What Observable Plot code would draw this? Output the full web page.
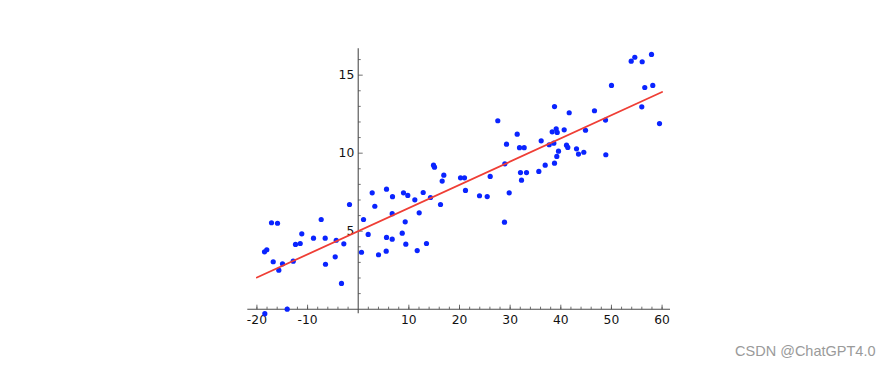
<!DOCTYPE html>
<html>
<head>
<meta charset="utf-8">
<script src="https://cdn.jsdelivr.net/npm/d3@7"></script>
<script src="https://cdn.jsdelivr.net/npm/@observablehq/plot@0.6"></script>
<style>
  html, body { margin: 0; padding: 0; background: #fff; }
</style>
</head>
<body>
<div id="chart"></div>
<script>
// Scatter data
const xs = [-18.44, -14.02, -18.5, -18.05, -17.12, -15.93, -16.78, -15.68, -14.95, -12.83,
  -12.38, -11.45, -11.14, -8.83, -7.31, -6.52, -6.46, -4.54, -4.34, -3.3,
  -2.84, -1.72, 0.65, 1.05, 1.97, 2.76, 3.28, 4.01, 5.59, 5.59,
  5.53, 6.77, 6.71, 6.71, 8.94, 8.69, 9.28, 9.4, 9.79, 11.18,
  11.65, 12.04, 12.83, 13.48, 14.27, 14.87, 15.06, 16.25, 16.58, 16.9,
  20.2, 20.99, 21.18, 23.95, 25.47, 26.06, 27.56, 28.95, 28.88, 29.28,
  29.81, 31.39, 31.85, 32.77, 32.04, 32.24, 33.23, 35.66, 36.13, 36.92,
  37.71, 38.3, 38.76, 39.09, 39.29, 38.62, 39.55, 39.21, 38.76, 40.67,
  41.66, 41.13, 41.38, 43.1, 43.49, 44.54, 44.88, 46.65, 48.83, 48.89,
  50.01, 53.9, 54.61, 56.07, 57.91, 55.99, 56.58, 58.16, 59.49];
const ys = [-0.29, 0.0, 3.68, 3.81, 5.54, 5.51, 3.04, 2.5, 2.91, 3.08,
  4.15, 4.21, 4.83, 4.55, 5.75, 4.55, 2.88, 3.36, 4.42, 1.65,
  4.19, 6.71, 3.65, 5.75, 4.79, 7.46, 6.6, 3.49, 7.69, 4.6,
  3.72, 7.21, 6.12, 4.49, 7.46, 4.87, 5.6, 4.17, 7.29, 7.01,
  3.76, 6.18, 7.48, 4.21, 7.16, 9.23, 9.1, 6.71, 8.21, 8.59,
  8.42, 8.42, 7.61, 7.27, 7.22, 8.51, 12.08, 9.32, 5.58, 10.58,
  7.46, 11.22, 10.35, 10.35, 8.76, 8.27, 8.76, 8.83, 10.79, 9.23,
  10.54, 11.37, 12.99, 11.56, 11.33, 10.64, 10.13, 9.79, 9.36, 11.5,
  12.59, 10.51, 10.37, 10.28, 9.94, 10.06, 11.47, 12.72, 12.12, 9.9,
  14.34, 15.9, 16.15, 15.86, 16.33, 12.97, 14.21, 14.34, 11.9];

// Fitted line endpoints
const fitX = [-20, 60];
const fitY = [2.03, 13.92];

// Axis extents and ticks
const xAxisExtent = [-21.8, 61.66];
const yAxisExtent = [-0.29, 16.69];
const xMajorTicks = [-20, -10, 10, 20, 30, 40, 50, 60];
const xMajorLabels = ["-20", "-10", "10", "20", "30", "40", "50", "60"];
const xMinorTicks = [-20, -18, -16, -14, -12, -10, -8, -6, -4, -2, 2, 4, 6, 8, 10, 12, 14, 16, 18, 20,
  22, 24, 26, 28, 30, 32, 34, 36, 38, 40, 42, 44, 46, 48, 50, 52, 54, 56, 58, 60];
const yMajorTicks = [5, 10, 15];
const yMajorLabels = ["5", "10", "15"];
const yMinorTicks = [1, 2, 3, 4, 6, 7, 8, 9, 11, 12, 13, 14, 16];

const watermark = "CSDN @ChatGPT4.0";

const points = xs.map((x, i) => ({x, y: ys[i]}));
const fit = fitX.map((x, i) => ({x, y: fitY[i]}));

const axisColor = "#4d4d4d";
const tickLen = (L) => ({draw(ctx) { ctx.moveTo(0, 0); ctx.lineTo(0, -L); }});
const tickRight = (L) => ({draw(ctx) { ctx.moveTo(0, 0); ctx.lineTo(L, 0); }});

const chart = Plot.plot({
  width: 890,
  height: 366,
  marginLeft: 247.3,
  marginRight: 220,
  marginTop: 48.3,
  marginBottom: 57.3,
  x: {domain: xAxisExtent, axis: null},
  y: {domain: [0, yAxisExtent[1]], axis: null},
  style: {fontFamily: "DejaVu Sans", fontSize: "12px", background: "#fff"},
  marks: [
    // axes lines
    Plot.ruleY([0], {x1: xAxisExtent[0], x2: xAxisExtent[1], stroke: axisColor, strokeWidth: 1.1}),
    Plot.ruleX([0], {y1: yAxisExtent[0], y2: yAxisExtent[1], stroke: axisColor, strokeWidth: 1.1}),
    // x ticks
    Plot.dot(xMinorTicks, {x: d => d, y: 0, symbol: tickLen(2.5), stroke: axisColor, fill: "none", strokeWidth: 0.8}),
    Plot.dot(xMajorTicks, {x: d => d, y: 0, symbol: tickLen(4.5), stroke: axisColor, fill: "none", strokeWidth: 0.8}),
    Plot.text(xMajorTicks, {x: d => d, y: 0, text: (d, i) => xMajorLabels[i], dy: 10.5, lineAnchor: "middle", fill: "#111", fontSize: 12.3}),
    // y ticks
    Plot.dot(yMinorTicks, {x: 0, y: d => d, symbol: tickRight(2.5), stroke: axisColor, fill: "none", strokeWidth: 0.8}),
    Plot.dot(yMajorTicks, {x: 0, y: d => d, symbol: tickRight(4.5), stroke: axisColor, fill: "none", strokeWidth: 0.8}),
    Plot.text(yMajorTicks, {x: 0, y: d => d, text: (d, i) => yMajorLabels[i], dx: -4, textAnchor: "end", lineAnchor: "middle", fill: "#111", fontSize: 12.3}),
    // points
    Plot.dot(points, {x: "x", y: "y", r: 2.6, fill: "#0a24ff", stroke: "none"}),
    // fitted line
    Plot.line(fit, {x: "x", y: "y", stroke: "#ef3e35", strokeWidth: 1.8}),
    // watermark
    Plot.text([watermark], {frameAnchor: "bottom-right", text: d => d, dx: 205, dy: 42, textAnchor: "end", lineAnchor: "middle",
      fill: "#9a9a9a", fontFamily: "Liberation Sans, Arial, sans-serif", fontSize: 14.5})
  ]
});
document.getElementById("chart").appendChild(chart);
</script>
</body>
</html>
